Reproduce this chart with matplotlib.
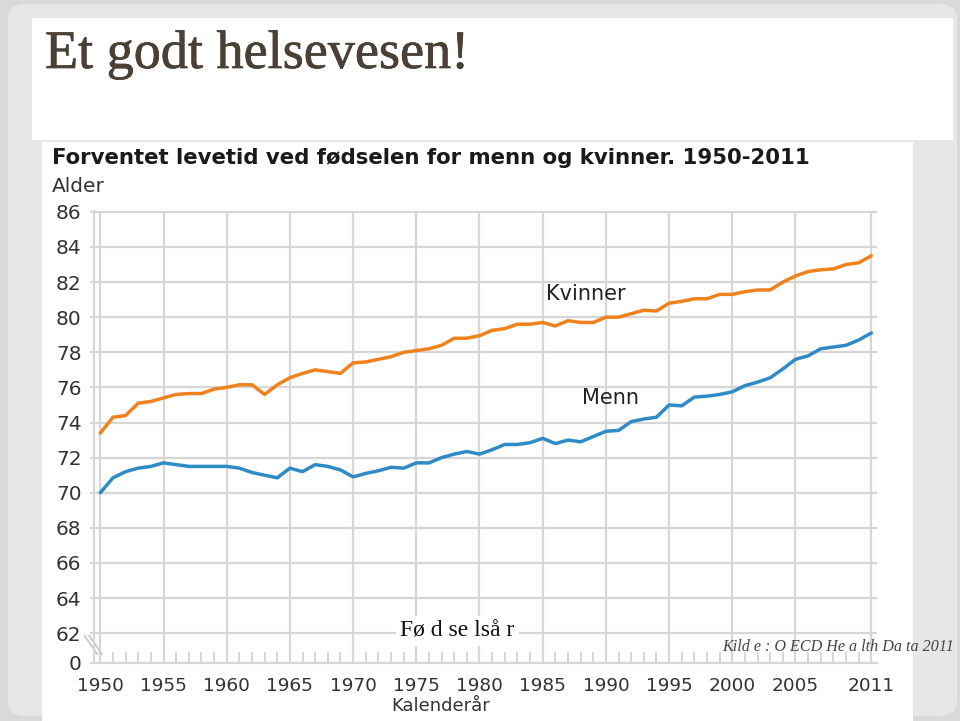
import numpy as np
import matplotlib.pyplot as plt
import matplotlib.patheffects as pe
from matplotlib.patches import Rectangle, FancyBboxPatch

# data
years = list(range(1950, 2012))
kvinner = [73.4, 74.3, 74.4, 75.1, 75.2, 75.4, 75.6, 75.65, 75.65, 75.9,
           76.0, 76.15, 76.15, 75.6, 76.15, 76.55, 76.8, 77.0, 76.9, 76.8,
           77.4, 77.45, 77.6, 77.75, 78.0, 78.1, 78.2, 78.4, 78.8, 78.8,
           78.95, 79.25, 79.35, 79.6, 79.6, 79.7, 79.5, 79.8, 79.7, 79.7,
           80.0, 80.0, 80.2, 80.4, 80.35, 80.8, 80.9, 81.05, 81.05, 81.3,
           81.3, 81.45, 81.55, 81.55, 82.0, 82.35, 82.6, 82.7, 82.75, 83.0,
           83.1, 83.5]
menn = [70.0, 70.85, 71.2, 71.4, 71.5, 71.7, 71.6, 71.5, 71.5, 71.5,
        71.5, 71.4, 71.15, 71.0, 70.85, 71.4, 71.2, 71.6, 71.5, 71.3,
        70.9, 71.1, 71.25, 71.45, 71.4, 71.7, 71.7, 72.0, 72.2, 72.35,
        72.2, 72.45, 72.75, 72.75, 72.85, 73.1, 72.8, 73.0, 72.9, 73.2,
        73.5, 73.55, 74.05, 74.2, 74.3, 75.0, 74.95, 75.45, 75.5, 75.6,
        75.75, 76.1, 76.3, 76.55, 77.05, 77.6, 77.8, 78.2, 78.3, 78.4,
        78.7, 79.1]
xticks = [1950, 1955, 1960, 1965, 1970, 1975, 1980, 1985, 1990, 1995, 2000, 2005, 2011]
yticks = [62, 64, 66, 68, 70, 72, 74, 76, 78, 80, 82, 84, 86]
y_bottom = 60.3  # where the broken axis shows "0"

W, H = 960, 721
fig = plt.figure(figsize=(W / 100, H / 100), dpi=100)
fig.patch.set_facecolor('#d9d9d9')


def box(x0, y0, x1, y1):
    # pixel box (top-left origin) -> figure fractions
    return x0 / W, 1 - y1 / H, (x1 - x0) / W, (y1 - y0) / H


def fpt(x, y):
    return x / W, 1 - y / H


# slide background (kept behind the axes)
x, y, w, h = box(8, 4, 957, 716)
fig.patches.append(FancyBboxPatch((x, y), w, h, boxstyle='round,pad=0,rounding_size=0.02',
                                  transform=fig.transFigure, fc='#e7e7e7', ec='none', zorder=-10))
x, y, w, h = box(32, 18, 953, 140)
fig.patches.append(Rectangle((x, y), w, h, transform=fig.transFigure, fc='white', ec='none',
                             zorder=-9))
x, y, w, h = box(42, 142, 913, 721)
fig.patches.append(Rectangle((x, y), w, h, transform=fig.transFigure, fc='white', ec='none',
                             zorder=-9))

fig.text(*fpt(45, 68), 'Et godt helsevesen!', family='Liberation Serif', fontsize=39,
         color='#4a4035', va='baseline', ha='left',
         path_effects=[pe.withStroke(linewidth=0.5, foreground='#4a4035')])

sans = 'DejaVu Sans'
fig.text(*fpt(52, 158), 'Forventet levetid ved fødselen for menn og kvinner. 1950-2011',
         family=sans, weight='bold', fontsize=15.3, color='#1a1a1a',
         va='center', ha='left')
fig.text(*fpt(52, 187), 'Alder', family=sans, fontsize=14.5, color='#333333',
         va='center', ha='left')

ax = fig.add_axes(box(94, 211, 877, 663))
ax.set_facecolor('none')
ax.plot(years, kvinner, color='#f0821e', lw=2.5, solid_capstyle='round')
ax.plot(years, menn, color='#2e8bc6', lw=2.5, solid_capstyle='round')
ax.set_xlim(1949.5, 2011.45)
ax.set_ylim(y_bottom, 86.05)

ax.set_xticks(xticks)
ax.set_xticklabels([str(t) for t in xticks], family=sans)
ax.set_xticks(years, minor=True)
ax.set_yticks([y_bottom] + yticks)
ax.set_yticklabels(['0'] + [str(t) for t in yticks], family=sans)
ax.grid(True, which='major', color='#d6d6d6', lw=1.6)
ax.set_axisbelow(True)
ax.tick_params(axis='x', which='both', direction='in', length=8, width=1.4,
               color='#d6d6d6', labelsize=13.3, labelcolor='#333333', pad=10)
ax.tick_params(axis='y', which='both', length=3, width=1.4, color='#d6d6d6',
               labelsize=14.5, labelcolor='#333333', pad=6)
for s in ['top', 'right']:
    ax.spines[s].set_visible(False)
for s in ['left', 'bottom']:
    ax.spines[s].set_color('#d6d6d6')
    ax.spines[s].set_linewidth(1.6)

# axis break marks
for dx in (0, 0.006):
    ax.plot([-0.012 + dx, 0.004 + dx], [0.06, 0.02], transform=ax.transAxes,
            color='#c8c8c8', lw=1.3, clip_on=False)

ax.text(1988.4, 81.34, 'Kvinner', family=sans, fontsize=15, color='#222222',
        ha='center', va='center')
ax.text(1990.4, 75.42, 'Menn', family=sans, fontsize=15, color='#222222',
        ha='center', va='center')

fig.text(*fpt(441, 706), 'Kalenderår', family=sans, fontsize=13,
         color='#333333', ha='center', va='center')
fig.text(*fpt(400, 631), 'Fø d se lså r', family='Liberation Serif', fontsize=17,
         color='#111111', ha='left', va='center',
         bbox=dict(fc='white', ec='none', pad=3))
fig.text(*fpt(722, 647), 'Kild e : O ECD He a lth Da ta 2011', family='Liberation Serif',
         style='italic', fontsize=11.6, color='#444444', ha='left', va='center')

fig.savefig('out.png', dpi=100, facecolor=fig.get_facecolor())
